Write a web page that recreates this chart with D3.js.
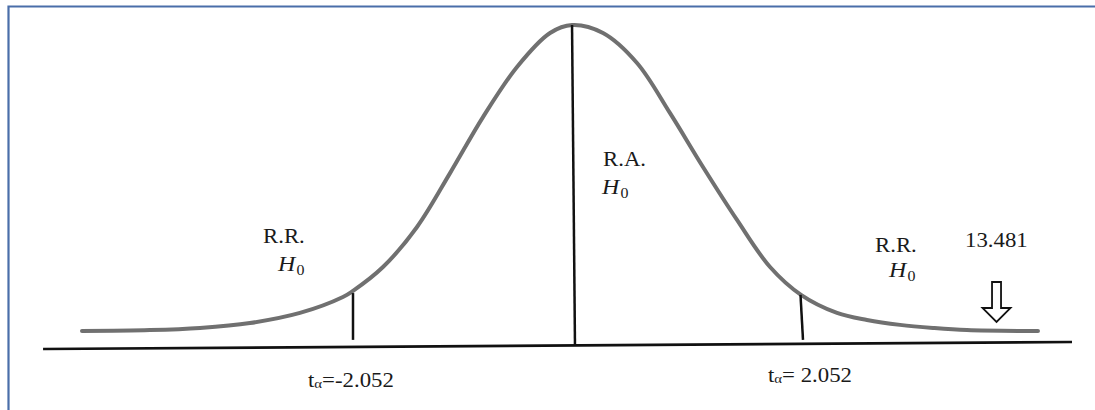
<!DOCTYPE html>
<html>
<head>
<meta charset="utf-8">
<script src="https://cdn.jsdelivr.net/npm/d3@7"></script>
<style>
  body { margin: 0; background: #fff; }
  svg { display: block; }
</style>
</head>
<body>
<div id="chart"></div>
<script>
// curve: t value and relative height (peak = 1)
var curveT = [-4.529, -3.908, -3.451, -2.994, -2.537, -2.144, -2.052, -1.778, -1.467, -1.165, -0.864, -0.553, -0.251, -0.050,
              0.233, 0.544, 0.846, 1.147, 1.458, 1.760, 2.043, 2.372, 2.646, 2.948, 3.249, 3.560, 4.209];
var curveH = [0, 0.003, 0.010, 0.026, 0.059, 0.111, 0.131, 0.209, 0.340, 0.516, 0.699, 0.863, 0.974, 1.000,
              0.974, 0.876, 0.712, 0.536, 0.363, 0.209, 0.118, 0.059, 0.036, 0.020, 0.010, 0.003, 0];

// critical values and test statistic
var critical = [-2.052, 2.052];
var critLabels = ["=-2.052", "= 2.052"];
var statValue = "13.481";
var statT = 3.83;   // where the arrow sits on the drawing

var width = 1095, height = 410;
var serif = "'Liberation Serif', 'Times New Roman', serif";

var svg = d3.select("#chart").append("svg")
  .attr("width", width)
  .attr("height", height);

// frame (only top and left edges show)
svg.append("path")
  .attr("d", "M8.5,410 V6.5 H1095")
  .attr("fill", "none")
  .attr("stroke", "#4a6ea9")
  .attr("stroke-width", 2.2);

var x = d3.scaleLinear().domain([-2.052, 2.052]).range([353, 802]);
var y = d3.scaleLinear().domain([0, 1]).range([331, 25]);

// base line (slightly tilted like the picture)
svg.append("line")
  .attr("x1", x(-4.885)).attr("y1", y(-0.059))
  .attr("x2", x(4.520)).attr("y2", y(-0.036))
  .attr("stroke", "#111")
  .attr("stroke-width", 2.6);

// bell curve
var pts = curveT.map(function (t, i) { return [t, curveH[i]]; });
var line = d3.line()
  .x(d => x(d[0]))
  .y(d => y(d[1]))
  .curve(d3.curveCatmullRom);

svg.append("path")
  .datum(pts)
  .attr("d", line)
  .attr("fill", "none")
  .attr("stroke", "#707070")
  .attr("stroke-width", 4)
  .attr("stroke-linecap", "round");

// centre line
svg.append("line")
  .attr("x1", x(-0.050)).attr("y1", y(1.0))
  .attr("x2", x(-0.023)).attr("y2", y(-0.046))
  .attr("stroke", "#111")
  .attr("stroke-width", 2.5);

// critical value ticks
svg.selectAll(".crit")
  .data(critical)
  .enter()
  .append("line")
  .attr("class", "crit")
  .attr("x1", (d, i) => x(d) - (i ? 1.5 : 0))
  .attr("y1", (d, i) => y(i ? 0.118 : 0.124))
  .attr("x2", (d, i) => x(d) + (i ? 1 : 0))
  .attr("y2", y(-0.029))
  .attr("stroke", "#111")
  .attr("stroke-width", 2.5);

// text helper: stretched serif text like the picture
function label(px, py) {
  return svg.append("text")
    .attr("transform", `translate(${px},${py}) scale(1.14,1)`)
    .attr("font-family", serif)
    .attr("fill", "#1a1a1a")
    .attr("font-size", 20);
}

function hNull(px, py) {
  var t = label(px, py);
  t.append("tspan").attr("font-style", "italic").attr("font-size", 21).text("H");
  t.append("tspan").attr("font-size", 14).attr("dy", 4).attr("dx", 1).text("0");
}

// region labels
label(263, 243).text("R.R.");
hNull(278, 271);
label(603, 166).text("R.A.");
hNull(602, 194);
label(875, 252).text("R.R.");
hNull(889, 277);

// critical value labels
var tl = [[308, 387], [768, 382]];
critLabels.forEach(function (s, i) {
  var t = label(tl[i][0], tl[i][1]);
  t.append("tspan").text("t");
  t.append("tspan").attr("font-size", 13).attr("dy", 1).text("α");
  t.append("tspan").attr("dy", -1).text(s);
});

// test statistic + hollow arrow
label(965, 247).text(statValue);

var ax = x(statT);
svg.append("path")
  .attr("d", `M${ax - 4.5},282 H${ax + 4.5} V308 H${ax + 14} L${ax},322 L${ax - 14},308 H${ax - 4.5} Z`)
  .attr("fill", "#fff")
  .attr("stroke", "#111")
  .attr("stroke-width", 1.8)
  .attr("stroke-linejoin", "miter");
</script>
</body>
</html>
